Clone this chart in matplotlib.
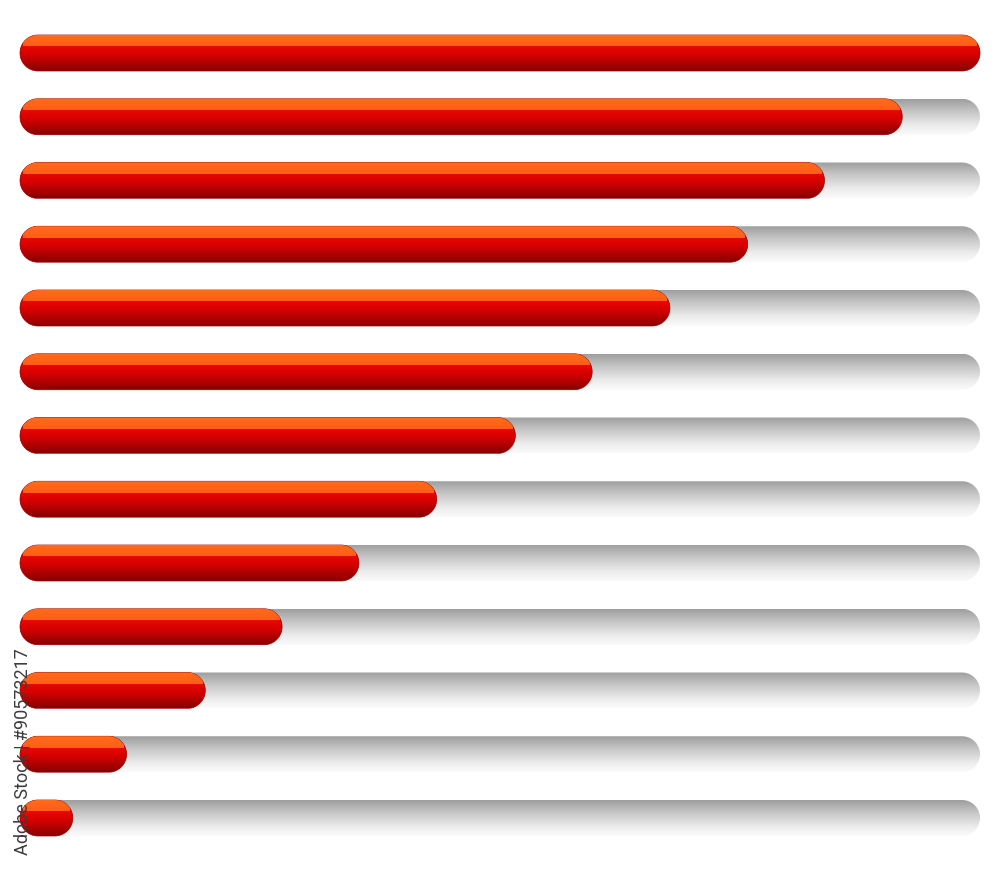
import numpy as np
import matplotlib
matplotlib.use('Agg')
import matplotlib.pyplot as plt
from matplotlib.patches import Polygon
from matplotlib.colors import LinearSegmentedColormap

# ---- data (share of track filled, in % of full track length) ----
levels = ['L1', 'L2', 'L3', 'L4', 'L5', 'L6', 'L7', 'L8', 'L9', 'L10', 'L11', 'L12', 'L13']
values = [100, 91.9, 83.8, 75.8, 67.7, 59.6, 51.6, 43.4, 35.3, 27.3, 19.3, 11.1, 5.5]
track_max = 100
watermark = 'Adobe Stock | #90573217'

# ---- layout ----
W, H = 1000, 872
fig = plt.figure(figsize=(W / 100, H / 100), dpi=100)
ax = fig.add_axes([0, 0, 1, 1])
ax.axis('off')

left_px, track_px = 20, 960
spacing_px = 63.75
first_center_px = 53
bar_h_px = 36

px_x = track_max / track_px          # x data units per pixel
px_y = 1 / spacing_px                # y data units per pixel
xlim = (-left_px * px_x, (W - left_px) * px_x)
ylim = ((H - first_center_px) * px_y, -first_center_px * px_y)
bar_h = bar_h_px * px_y

red_cmap = LinearSegmentedColormap.from_list(
    'red', [(0.0, '#F21A00'), (0.30, '#EA0800'), (0.55, '#D60000'), (1.0, '#880000')])
orange_cmap = LinearSegmentedColormap.from_list(
    'orange', [(0.0, '#FF7A26'), (1.0, '#FF5E14')])
gray_cmap = LinearSegmentedColormap.from_list(
    'gray', [(0.0, '#9E9E9E'), (0.35, '#C6C6C6'), (0.75, '#EDEDED'), (1.0, '#FBFBFB')])

grad = np.linspace(0, 1, 256).reshape(-1, 1)


def stadium(x0, x1, y0, hh, **kw):
    """Pill shape whose end caps are circular on screen."""
    ry = hh / 2
    rx = (hh / px_y) / 2 * px_x
    yc = y0 + ry
    x1 = max(x1, x0 + 2 * rx)
    t = np.linspace(-np.pi / 2, np.pi / 2, 60)
    right = np.column_stack([x1 - rx + rx * np.cos(t), yc + ry * np.sin(t)])
    t2 = np.linspace(np.pi / 2, 3 * np.pi / 2, 60)
    left = np.column_stack([x0 + rx + rx * np.cos(t2), yc + ry * np.sin(t2)])
    return Polygon(np.vstack([right, left]), closed=True, **kw)


def grad_fill(x0, x1, y0, hh, cmap, z, ec='none', lw=0):
    patch = stadium(x0, x1, y0, hh, facecolor='none', edgecolor=ec, lw=lw, zorder=z + 0.5)
    ax.add_patch(patch)
    im = ax.imshow(grad, cmap=cmap, vmin=0, vmax=1, extent=(x0, x1, y0 + hh, y0),
                   origin='upper', aspect='auto', interpolation='bilinear', zorder=z)
    im.set_clip_path(patch)
    return patch, im


for i, (lab, v) in enumerate(zip(levels, values)):
    yc = i
    y0 = yc - bar_h / 2
    # grey track
    grad_fill(0, track_max, y0, bar_h, gray_cmap, 1)
    # red bar
    outer, _ = grad_fill(0, v, y0, bar_h, red_cmap, 2, ec='#9A0000', lw=0.5)
    # orange highlight band on top
    band_h = 24 * px_y
    inset = 3 * px_x
    _, im = grad_fill(inset, v - inset, y0 - 12.5 * px_y, band_h, orange_cmap, 3)
    im.set_clip_path(outer)

ax.set_xlim(*xlim)
ax.set_ylim(*ylim)

fig.text(23 / W, 1 - 752 / H, watermark, rotation=90, ha='center', va='center',
         fontsize=13, color='#3C3C3C', family='Roboto')

fig.savefig('out.png', dpi=100, facecolor='white')
